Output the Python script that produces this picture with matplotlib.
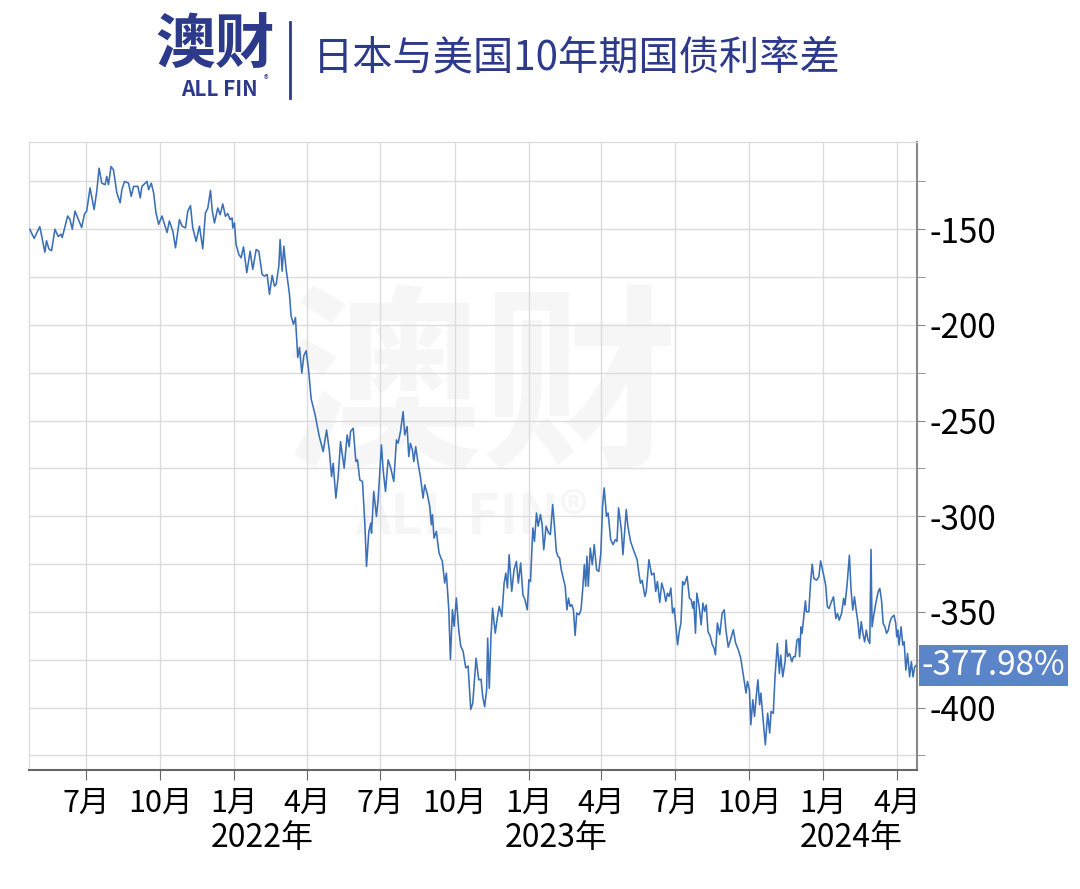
import matplotlib
matplotlib.use('Agg')
import matplotlib.pyplot as plt
import matplotlib.dates as mdates
from matplotlib.ticker import MultipleLocator, FuncFormatter
from matplotlib.lines import Line2D
import numpy as np
import pandas as pd

plt.rcParams['font.family'] = ['Noto Sans CJK SC', 'DejaVu Sans']
plt.rcParams['axes.unicode_minus'] = False

# days counted from 2021-07-01, spread in basis points
base_date = '2021-07-01'
days = [
    -69.7, -64.3, -57.3, -51, -49, -46, -42.7, -38.6, -34.4, -31, -29.5, -22.8, -20, -17, -13.7, -9.5,
    -5.4, -2, 0.8, 5, 10, 13.3, 16.2, 19.5, 23.7, 25.7, 27.8, 31, 34, 38.2, 42.3, 44.4, 47.7, 52.7,
    56, 59, 64.3, 67.2, 69.3, 75.5, 77.6, 80.9, 83.8, 86.7, 90, 94.2, 100.4, 103.3,
    107.6, 110.9, 115.8, 119.1, 123.3, 126.1, 129.5, 132.3, 136.5, 140.6, 144.7, 148, 151, 154.3,
    156.3, 159.2, 163.3, 166.2, 169.5, 172.8, 175.7, 178.6, 181.1, 181.9, 184, 186, 189.4, 192.3,
    195.2, 199.3, 203.4, 206.7, 210.9, 214.2, 218.3, 221.2, 224.5, 227.4, 230.7, 233.6, 235.7, 239,
    240.6, 243.1, 245.2, 248.1, 252.2, 254.2, 257.1, 259.6, 262.5, 264.6, 267.5, 270, 272.9, 275.8,
    279.1, 284, 289,
    294, 298.2, 301.5, 304.4, 306.4, 309.7, 312.6, 315.5, 318, 320, 323.7, 326.2, 327.9, 331.2, 334.5,
    336.5, 339.4, 342.7, 345.6, 347.7, 350.6, 353, 353.9, 356.7, 360, 362.1, 366.2, 368.3, 371.2,
    374.5, 377.8, 381.5, 384.8, 386.9, 389.8, 393.1, 395.1, 398, 400.1, 402.1, 404.6, 406.3, 408.7,
    411.6, 414.5, 417.8, 419.9, 422.8, 426.1, 428.1, 429.4, 431.4, 434.3, 437.6, 441.7, 444.6, 446.7,
    449.7, 451.7, 454.2, 456.3, 459.1, 462, 464.5, 467.4, 470.7, 473.6, 476.9,
    479.4, 483.5, 486.8, 489.7, 491.7, 494.2, 496.6, 497.9, 499.9, 502, 504, 507.3, 510.1, 512.2,
    515.4, 518.3, 520.4, 522.4, 524.5, 527.7, 530.6, 533.5, 535.9, 538.8, 541.6, 544.1, 547, 549,
    551, 553.9, 555.9, 558.4, 560.5, 563.3, 565.4, 567.4, 570.3, 573.5, 575.6, 578.5, 580.9, 583,
    585, 587.1, 589.1, 592, 594, 596.1, 598.1, 600.1, 602.2, 604.2, 606.3, 608.3, 611.2, 613.6,
    615.7, 617.7, 619.4, 621, 622.6, 625.1, 627.6, 630, 632.9, 635.7, 638.2, 640.3, 642.3, 645.2,
    647.2, 650.4, 653.3, 656.2, 658.2, 660.2, 663.6, 665.6, 669.7, 671.7, 675, 679,
    683.2, 685.3, 687.3, 689.4, 692.8, 694.5, 697.8, 701.1, 704.1, 706.2, 708.3, 711.2, 713.7, 716.6,
    718.7, 720.8, 722.9, 725, 727.1, 729.2, 731.3, 733.3, 735.4, 737.5, 739.6, 741.7, 745.1, 748,
    750.1, 752.2, 753.4, 755.5, 757.2, 759.7, 762.6, 764.7, 766.8, 768.9, 771, 773.9, 776.4, 778.5,
    780.2, 782.7, 785.6, 788.6, 791.1, 793.2, 796.1, 799, 802.4, 805.3, 808.6, 811.6, 813.2, 815.7,
    818.2, 819.9, 822.4, 824.1, 826.6, 828.7, 830.8, 832.9, 835, 836.6, 839.2, 842.1, 845, 847.5, 849.2,
    852, 854.1, 857, 859.5, 861.2, 863.7, 866.6, 867.9, 869.6, 872.1, 875, 877.1, 879.2, 881.3,
    883.4, 884.6, 886.3, 887.6, 889.7, 891.8, 893, 896, 898.1, 900.2, 902.3, 905.6, 908.5, 910.6,
    912.7, 914.8, 916.9, 919, 921.1, 923.2, 926.6, 929.5, 931.6, 933.7, 936.6, 939.2, 940.8, 943.4,
    946.3, 948.4, 950.5, 952.6, 954.7, 956.8, 958.9, 961, 963.1, 965.2, 967.3, 969.5, 971.6, 973.1,
    974.4, 976.5, 979, 981.9, 984, 986.1, 988.2, 990.3, 992.4, 994.5, 996.6, 998.7, 1001.6, 1003.8,
    1005, 1006.2, 1007.9, 1010.4, 1012.5, 1014.2, 1016.3, 1018.4, 1021, 1023.1, 1025.2, 1027.3, 1029,
]
spread = [
    -150, -154.8, -148.6, -162, -156, -160.3, -161.2, -150, -153.8, -152.6, -154.3, -143.1, -144.8, -150, -140.5, -144.8,
    -149.1, -142.2, -140.5, -128.4, -139.7, -130.2, -118.1, -125.9, -126.7, -122.4, -126.7, -117.2, -119, -131, -136.2, -129.3, -125, -125.9,
    -132.8, -127.6, -127.6, -133.6, -127.6, -125, -129.3, -125.9, -131, -141.4, -147.4, -143.1, -151.7, -145.7,
    -151, -159.7, -145, -148.4, -149.3, -140.6, -137.7, -149.3, -156.3, -148.4, -160.2, -141.5, -138.9, -129.7,
    -139.8, -146.7, -138.9, -142.4, -136.8, -143.2, -141.8, -145, -144.1, -149.3, -146.7, -158, -163.2, -164.9,
    -159.2, -172.7, -161.5, -171, -160.6, -161.5, -173.6, -174.5, -173.6, -184, -174.1, -179.7, -178.8, -169.3,
    -155.4, -171.9, -158.9, -171, -184, -195.3, -199.7, -196.2, -217, -211.8, -225.2, -216.1, -213.5, -223.1,
    -238.7, -247, -258,
    -266.2, -254.9, -265.3, -279.2, -272.3, -290.5, -279.2, -261, -268.8, -274.9, -257.5, -263.6, -255.7, -254, -271.4,
    -270.5, -281, -281.8, -303.6, -326.2, -307.9, -303.6, -308.8, -287, -300.1, -291.4, -262.7, -275.7, -287,
    -270.5, -274.9, -281.8, -260.1, -261.8, -255.7, -245.3, -257.5, -253.1, -268.8, -261.8, -265.3, -271.4, -263.6,
    -272.3, -279.2, -290.5, -283.6, -287.9, -294.9, -304.4, -299.2, -311.4, -307.9, -319.2, -323.6, -334.9, -329.7,
    -348.8, -374.9, -348.8, -357.5, -342.7, -359.2, -367.9, -370.5, -379.2, -378.3, -400.9,
    -397.7, -374.2, -385.5, -385.2, -394.2, -399.5, -390.8, -363.7, -389.9, -362.8, -348, -361.1, -352.4, -347.1,
    -352.4, -334.9, -329.7, -337.5, -320.1, -339.3, -327.9, -323.6, -334.9, -324.4, -341, -343.6, -348.9, -333.2,
    -334, -306.1, -313.1, -298.3, -305.2, -299.1, -304.4, -317.5, -305.2, -308.7, -309.6, -293.9, -306.1, -318.3,
    -320.9, -321.8, -327.9, -333.2, -336.6, -348.9, -342.8, -347.1, -346.2, -348.9, -362.3, -350.6, -351.5, -348.9,
    -338.4, -325.3, -336.6, -320.9, -336.6, -316.6, -325.3, -314.8, -327.9, -328.8, -319.2, -294.8, -285.2, -300,
    -298.3, -312.2, -314.8, -312.2, -313.1, -295.6, -307, -320.1, -296.5, -305.2, -313.1, -318,
    -322.7, -329.7, -335, -333.5, -341.9, -339.3, -322.7, -330.6, -329.7, -339.3, -334.1, -345, -334.9, -339.3,
    -344.5, -340.2, -341.9, -337.5, -350.6, -348, -357.6, -367.2, -360.2, -355.8, -334.1, -335.8, -331.4, -342.8,
    -343.6, -348, -344.5, -361.1, -340.2, -346.3, -356.7, -345.4, -349.7, -346.3, -360.2, -362.8, -367.2, -368.9,
    -372.4, -355.8, -361.9, -350.6, -348.9, -359.3, -368.4, -364.5, -359.3, -366.3, -369.8, -374.1, -378.5, -385.5,
    -392.4, -386.3, -390.7, -409, -395.9, -404.6, -394.2, -385.5, -398.5, -392.4, -405.5, -419.4, -402.9, -413.3, -402,
    -403, -383.9, -366.5, -382.1, -372.6, -383.9, -376, -364.7, -373.4, -371.7, -376, -373.4, -373.4, -364.7,
    -363.9, -373.4, -357.8, -361.2, -352.5, -344.2, -349.9, -349.9, -335.1, -325, -332.5, -333.4, -331.6, -323.3,
    -327.3, -331.6, -336, -347.3, -348.2, -345.6, -342.1, -353.4, -350.8, -354.3, -350.8, -342.9, -346.4, -336,
    -320.3, -338.6, -349, -342.1, -349, -355.1, -363.9, -355.1, -361.2, -365.6, -359.5, -364.7, -366.5, -317.3,
    -357.8, -351.7, -345.6, -339.5, -337.7, -343.8, -356, -357.8, -361.2, -359.5, -355.1, -352.9, -351.7, -356,
    -363, -359.5, -367.3, -357.8, -367.3, -365.6, -380.4, -371.7, -383.9, -376, -383.9, -378.7, -377.98,
]
year_labels = [2022, 2023, 2024]
title = '日本与美国10年期国债利率差'

navy = '#2d3a8c'
line_blue = '#3b70b6'
badge_blue = '#5b85c8'

dates = pd.Timestamp(base_date) + pd.to_timedelta(np.array(days), unit='D')

fig = plt.figure(figsize=(10.8, 8.89), dpi=100)
ax = fig.add_axes([29 / 1080, 1 - 770 / 889, (916.5 - 29) / 1080, (770 - 142) / 889])

# faint watermark behind the line
ax.text(482 / 1080, 1 - 395 / 889, '澳财', transform=fig.transFigure, fontsize=142,
        fontweight='bold', color='#f6f6f6', ha='center', va='center', zorder=0.1)
ax.text(472 / 1080, 1 - 518 / 889, 'ALL FIN®', transform=fig.transFigure, fontsize=40,
        fontweight='bold', color='#f6f6f6', ha='center', va='center', zorder=0.1)

ax.plot(dates, spread, color=line_blue, lw=1.15, zorder=3)

d0 = pd.Timestamp(base_date)
ax.set_xlim(d0 - pd.Timedelta(days=70.7), d0 + pd.Timedelta(days=1029.5))
ax.set_ylim(-432.6, -104.4)

ax.set_axisbelow(True)
ax.yaxis.tick_right()
ax.yaxis.set_major_locator(MultipleLocator(50))
ax.yaxis.set_minor_locator(MultipleLocator(25))
ax.yaxis.set_major_formatter(FuncFormatter(lambda v, p: f'{v:.0f}'))
ax.xaxis.set_major_locator(mdates.MonthLocator(bymonth=[1, 4, 7, 10]))
ax.xaxis.set_major_formatter(FuncFormatter(lambda v, p: f'{mdates.num2date(v).month}月'))

ax.grid(which='both', axis='y', color='#dcdcdc', lw=1)
ax.grid(which='major', axis='x', color='#dcdcdc', lw=1)
ax.tick_params(axis='y', which='both', length=6, color='#888888', labelsize=24, pad=3)
ax.tick_params(axis='x', length=7, color='#666666', labelsize=22, pad=6)

for side in ['left', 'top']:
    ax.spines[side].set_color('#d9d9d9')
ax.spines['bottom'].set_color('#666666')
ax.spines['bottom'].set_linewidth(1.5)
ax.spines['right'].set_color('#888888')
ax.spines['right'].set_linewidth(1.5)

for yr in year_labels:
    ax.annotate(f'{yr}年', xy=(mdates.date2num(pd.Timestamp(f'{yr}-01-01')), 0),
                xycoords=('data', 'axes fraction'), xytext=(-24, -52), textcoords='offset pixels',
                ha='left', va='top', fontsize=23, annotation_clip=False)

# last value badge
ax.annotate(f'{spread[-1]:.2f}%', xy=(1, spread[-1]), xycoords=('axes fraction', 'data'),
            xytext=(5, 0), textcoords='offset pixels', ha='left', va='center', color='white',
            fontsize=24, annotation_clip=False,
            bbox=dict(boxstyle='square,pad=0.08', fc=badge_blue, ec='none'))

# header: logo, divider and title
fig.text(215 / 1080, 1 - 47 / 889, '澳财', fontsize=43, fontweight='bold', color=navy,
         ha='center', va='center')
fig.text(219 / 1080, 1 - 89 / 889, 'ALL FIN', fontsize=15, fontweight='bold', color=navy,
         ha='center', va='center')
fig.text(266 / 1080, 1 - 80 / 889, '®', fontsize=7, color=navy, ha='center', va='center')
fig.add_artist(Line2D([290 / 1080, 290 / 1080], [1 - 22 / 889, 1 - 98 / 889], color=navy, lw=2))
fig.text(313 / 1080, 1 - 58 / 889, title, fontsize=29, color=navy, ha='left', va='center')

fig.savefig('out.png', dpi=100)
